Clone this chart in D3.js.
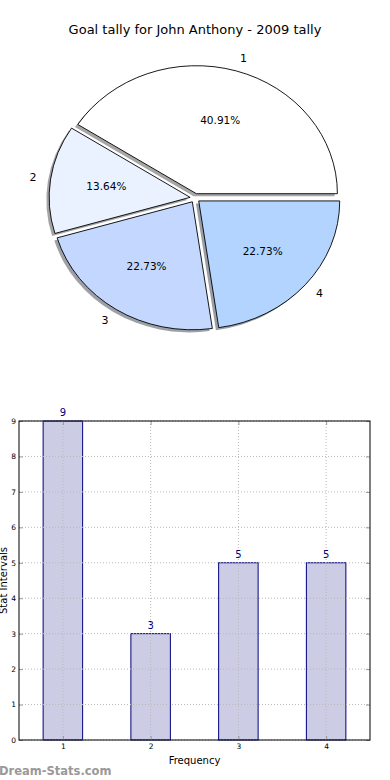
<!DOCTYPE html>
<html>
<head>
<meta charset="utf-8">
<script src="https://d3js.org/d3.v7.min.js"></script>
<style>
  body { margin: 0; background: #fff; }
  svg { display: block; font-family: "DejaVu Sans", sans-serif; }
</style>
</head>
<body>
<script>
// chart data
var title = "Goal tally for John Anthony - 2009 tally";
var categories = ["1", "2", "3", "4"];
var counts = [9, 3, 5, 5];
var sliceColors = ["#ffffff", "#ebf2ff", "#c4d8ff", "#b3d4ff"];
var xTicks = [1, 2, 3, 4];
var yTicks = [0, 1, 2, 3, 4, 5, 6, 7, 8, 9];
var xLabel = "Frequency";
var yLabel = "Stat Intervals";
var watermark = "Dream-Stats.com";

var width = 390,
	height = 780;

var svg = d3.select("body").append("svg")
	.attr("width", width)
	.attr("height", height);

// title
svg.append("text")
	.attr("x", 195)
	.attr("y", 34)
	.attr("text-anchor", "middle")
	.attr("font-size", 13)
	.attr("fill", "#000")
	.text(title);

// ---------- pie (elliptical, exploded, with shadow) ----------
var cx = 195, cy = 198, rx = 141, ry = 128;
var explode = 0.035;
var total = d3.sum(counts);

// matplotlib starts at 3 o'clock and goes counterclockwise
var pie = d3.pie().sort(null)
	.startAngle(Math.PI / 2)
	.endAngle(Math.PI / 2 - 2 * Math.PI);
var slices = pie(counts);

var arc = d3.arc().innerRadius(0).outerRadius(1);

function offset(d, k) {
	var mid = (d.startAngle + d.endAngle) / 2;
	return [cx + k * rx * Math.sin(mid), cy - k * ry * Math.cos(mid)];
}

var pieG = svg.append("g");

// shadows first (drawn below every wedge)
pieG.selectAll("path.shadow")
	.data(slices)
	.enter()
	.append("path")
	.attr("class", "shadow")
	.attr("d", arc)
	.attr("transform", function(d) {
		var p = offset(d, explode);
		return "translate(" + (p[0] - 2.8) + "," + (p[1] + 2.6) + ") scale(" + rx + "," + ry + ")";
	})
	.attr("fill", function(d, i) {
		var c = d3.rgb(sliceColors[i]);
		return d3.rgb(c.r * 0.3, c.g * 0.3, c.b * 0.3);
	})
	.attr("fill-opacity", 0.5)
	.attr("stroke", "none");

pieG.selectAll("path.wedge")
	.data(slices)
	.enter()
	.append("path")
	.attr("class", "wedge")
	.attr("d", arc)
	.attr("transform", function(d) {
		var p = offset(d, explode);
		return "translate(" + p[0] + "," + p[1] + ") scale(" + rx + "," + ry + ")";
	})
	.attr("fill", function(d, i) { return sliceColors[i]; })
	.attr("stroke", "#000")
	.attr("stroke-width", 0.9)
	.attr("vector-effect", "non-scaling-stroke");

// outer labels
pieG.selectAll("text.label")
	.data(slices)
	.enter()
	.append("text")
	.attr("class", "label")
	.attr("x", function(d) {
		var c = offset(d, explode);
		var mid = (d.startAngle + d.endAngle) / 2;
		return c[0] + 1.1 * rx * Math.sin(mid);
	})
	.attr("y", function(d) {
		var c = offset(d, explode);
		var mid = (d.startAngle + d.endAngle) / 2;
		return c[1] - 1.1 * ry * Math.cos(mid);
	})
	.attr("text-anchor", function(d) {
		var mid = (d.startAngle + d.endAngle) / 2;
		return Math.sin(mid) > 0 ? "start" : "end";
	})
	.attr("dy", "0.35em")
	.attr("font-size", 11)
	.text(function(d, i) { return categories[i]; });

// percentages
pieG.selectAll("text.pct")
	.data(slices)
	.enter()
	.append("text")
	.attr("class", "pct")
	.attr("x", function(d) {
		var c = offset(d, explode);
		var mid = (d.startAngle + d.endAngle) / 2;
		return c[0] + 0.6 * rx * Math.sin(mid);
	})
	.attr("y", function(d) {
		var c = offset(d, explode);
		var mid = (d.startAngle + d.endAngle) / 2;
		return c[1] - 0.6 * ry * Math.cos(mid);
	})
	.attr("text-anchor", "middle")
	.attr("dy", "0.35em")
	.attr("font-size", 10.5)
	.text(function(d) { return (d.value / total * 100).toFixed(2) + "%"; });

// ---------- bar chart ----------
var plotLeft = 19, plotRight = 370, plotTop = 421, plotBottom = 740;

var x = d3.scaleLinear().domain([0.5, 4.5]).range([plotLeft, plotRight]);
var y = d3.scaleLinear().domain([0, 9]).range([plotBottom, plotTop]);
var barW = 0.45;

var barG = svg.append("g");

barG.selectAll("rect.bar")
	.data(counts)
	.enter()
	.append("rect")
	.attr("class", "bar")
	.attr("x", function(d, i) { return x(xTicks[i] - barW / 2); })
	.attr("y", function(d) { return y(d); })
	.attr("width", function() { return x(1 + barW / 2) - x(1 - barW / 2); })
	.attr("height", function(d) { return y(0) - y(d); })
	.attr("fill", "#ccccE5")
	.attr("stroke", "#000080")
	.attr("stroke-width", 1);

// grid (drawn over bars)
barG.selectAll("line.vgrid")
	.data(xTicks)
	.enter()
	.append("line")
	.attr("x1", function(d) { return x(d); })
	.attr("x2", function(d) { return x(d); })
	.attr("y1", plotTop)
	.attr("y2", plotBottom)
	.attr("stroke", "#b8b8b8")
	.attr("stroke-dasharray", "1,2");

barG.selectAll("line.hgrid")
	.data(yTicks)
	.enter()
	.append("line")
	.attr("x1", plotLeft)
	.attr("x2", plotRight)
	.attr("y1", function(d) { return y(d); })
	.attr("y2", function(d) { return y(d); })
	.attr("stroke", "#b8b8b8")
	.attr("stroke-dasharray", "1,2");

// value labels
barG.selectAll("text.val")
	.data(counts)
	.enter()
	.append("text")
	.attr("x", function(d, i) { return x(xTicks[i]); })
	.attr("y", function(d) { return y(d) - 5; })
	.attr("text-anchor", "middle")
	.attr("font-size", 10)
	.attr("fill", "#000080")
	.text(function(d) { return d; });

// axes (ticks pointing inward)
var fmt = d3.format("d");
var yAxis = d3.axisLeft(y).tickValues(yTicks).tickFormat(fmt).tickSizeInner(-4).tickSizeOuter(0).tickPadding(3);
var yAxisR = d3.axisRight(y).tickValues(yTicks).tickSizeInner(-4).tickSizeOuter(0).tickFormat("");
var xAxis = d3.axisBottom(x).tickValues(xTicks).tickFormat(fmt).tickSizeInner(-4).tickSizeOuter(0).tickPadding(4);
var xAxisT = d3.axisTop(x).tickValues(xTicks).tickSizeInner(-4).tickSizeOuter(0).tickFormat("");

function styleAxis(g) {
	g.select(".domain").remove();
	g.selectAll(".tick line").attr("stroke", "#999");
	g.selectAll(".tick text").attr("font-size", 7.5).attr("fill", "#000")
		.attr("font-family", "DejaVu Sans, sans-serif");
}

barG.append("g").attr("transform", "translate(" + plotLeft + ",0)").call(yAxis).call(styleAxis);
barG.append("g").attr("transform", "translate(" + plotRight + ",0)").call(yAxisR).call(styleAxis);
barG.append("g").attr("transform", "translate(0," + plotBottom + ")").call(xAxis).call(styleAxis);
barG.append("g").attr("transform", "translate(0," + plotTop + ")").call(xAxisT).call(styleAxis);

// frame
barG.append("rect")
	.attr("x", plotLeft)
	.attr("y", plotTop)
	.attr("width", plotRight - plotLeft)
	.attr("height", plotBottom - plotTop)
	.attr("fill", "none")
	.attr("stroke", "#000")
	.attr("stroke-width", 1);

// axis labels
svg.append("text")
	.attr("x", (plotLeft + plotRight) / 2)
	.attr("y", 764)
	.attr("text-anchor", "middle")
	.attr("font-size", 10)
	.text(xLabel);

svg.append("text")
	.attr("transform", "translate(7," + ((plotTop + plotBottom) / 2) + ") rotate(-90)")
	.attr("text-anchor", "middle")
	.attr("font-size", 10)
	.text(yLabel);

// watermark
svg.append("text")
	.attr("x", -1)
	.attr("y", 775)
	.attr("font-size", 11.5)
	.attr("fill", "#999")
	.attr("font-weight", "bold")
	.text(watermark);
</script>
</body>
</html>
